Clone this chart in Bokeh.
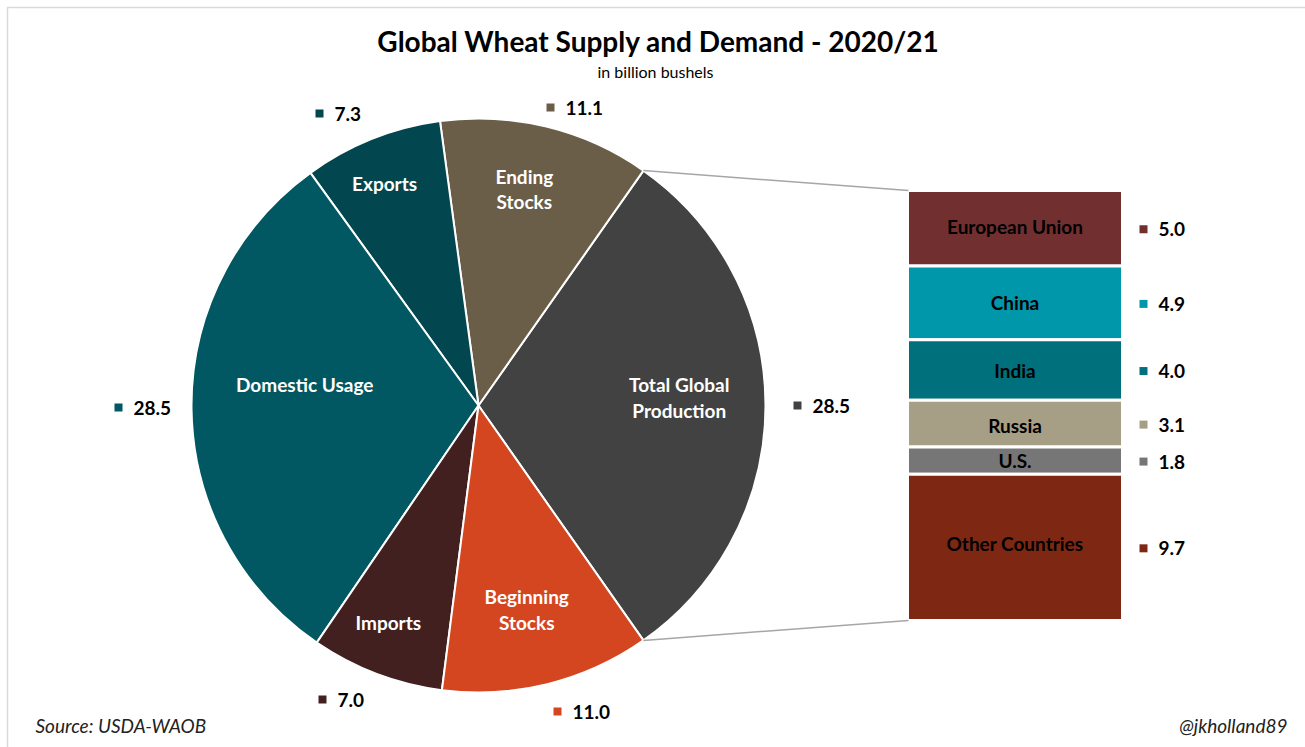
import math
from bokeh.plotting import figure
from bokeh.models import Range1d
from bokeh.core.properties import value
from bokeh.embed import file_html
from bokeh.resources import INLINE

# ---------------- data ----------------
pie_labels = ["Total Global\nProduction", "Ending\nStocks", "Exports",
              "Domestic Usage", "Imports", "Beginning\nStocks"]
pie_values = [28.5, 11.1, 7.3, 28.5, 7.0, 11.0]
pie_value_text = ["28.5", "11.1", "7.3", "28.5", "7.0", "11.0"]
pie_colors = ["#424242", "#6a5e49", "#02474f", "#015862", "#432020", "#d4461f"]

country_labels = ["European Union", "China", "India", "Russia", "U.S.", "Other Countries"]
country_values = [5.0, 4.9, 4.0, 3.1, 1.8, 9.7]
country_value_text = ["5.0", "4.9", "4.0", "3.1", "1.8", "9.7"]
country_colors = ["#722f30", "#0097aa", "#00717c", "#a79e86", "#767676", "#7e2813"]

# ---------------- layout ----------------
W, H = 1305, 747
FONT = "Lato"


def Y(py):
    return H - py


p = figure(width=W, height=H, x_range=Range1d(0, W), y_range=Range1d(0, H),
           output_backend="svg", toolbar_location=None, min_border=0,
           x_axis_type=None, y_axis_type=None, outline_line_color=None,
           background_fill_color="white", border_fill_color="white")
p.grid.visible = False

# chart frame
p.quad(left=7, right=W + 10, top=Y(7), bottom=-10, fill_color=None,
       line_color="#d9d9d9", line_width=1.5)

# pie
cx, cy, R = 478, Y(405), 287
total = sum(pie_values)
start0 = -math.pi * pie_values[0] / total
starts, ends, mids = [], [], []
a = start0
for v in pie_values:
    da = 2 * math.pi * v / total
    starts.append(a)
    ends.append(a + da)
    mids.append(a + da / 2)
    a += da

p.wedge(x=cx, y=cy, radius=R, start_angle=starts, end_angle=ends,
        fill_color=pie_colors, line_color="white", line_width=2)

# in-slice labels: radius fraction and angle shift per slice
lab_r = [0.70, 0.77, 0.84, 0.61, 0.82, 0.73]
lab_da = [0.04, 0.03, 0.02, -0.135, -0.03, -0.01]
lx = [cx + R * f * math.cos(m + d) for f, m, d in zip(lab_r, mids, lab_da)]
ly = [cy + R * f * math.sin(m + d) for f, m, d in zip(lab_r, mids, lab_da)]
p.text(x=lx, y=ly, text=pie_labels, text_color="white", text_font=value(FONT),
       text_font_style="bold", text_font_size="19px", text_align="center",
       text_baseline="middle", text_line_height=1.1)

# outside value labels (marker + value)
val_mx = [797, 550, 319, 118, 322, 557]
val_my = [405, 107, 113, 407, 699, 711]
p.scatter(x=val_mx, y=[Y(v) for v in val_my], marker="square", size=8,
          fill_color=pie_colors, line_color=None)
p.text(x=[x + 15 for x in val_mx], y=[Y(v) for v in val_my], text=pie_value_text,
       text_color="black", text_font=value(FONT), text_font_style="bold",
       text_font_size="19px", text_align="left", text_baseline="middle")

# stacked bar of production
bx0, bx1, btop = 907, 1122, Y(190)
scale = (620 - 190) / sum(country_values)
tops, bots = [], []
c = 0.0
for v in country_values:
    tops.append(btop - c * scale)
    c += v
    bots.append(btop - c * scale)
p.quad(left=bx0, right=bx1, top=tops, bottom=bots, fill_color=country_colors,
       line_color="white", line_width=3)
mid_y = [(t + b) / 2 for t, b in zip(tops, bots)]
lab_shift = [2, 0, 0, -2, 0, 4]
p.text(x=(bx0 + bx1) / 2, y=[m + s for m, s in zip(mid_y, lab_shift)], text=country_labels,
       text_color="black", text_font=value(FONT), text_font_style="bold",
       text_font_size="19px", text_align="center", text_baseline="middle")
p.scatter(x=1143, y=[m - 1 for m in mid_y], marker="square", size=8,
          fill_color=country_colors, line_color=None)
p.text(x=1158, y=[m - 1 for m in mid_y], text=country_value_text, text_color="black",
       text_font=value(FONT), text_font_style="bold", text_font_size="19px",
       text_align="left", text_baseline="middle")

# connector lines
p.segment(x0=[cx + R * math.cos(ends[0]), cx + R * math.cos(starts[0])],
          y0=[cy + R * math.sin(ends[0]), cy + R * math.sin(starts[0])],
          x1=[bx0 + 1, bx0 + 1], y1=[tops[0], bots[-1]],
          line_color="#a6a6a6", line_width=1.5)

# titles & notes
p.text(x=658, y=Y(40), text=["Global Wheat Supply and Demand - 2020/21"],
       text_font=value(FONT), text_font_style="bold", text_font_size="28px",
       text_align="center", text_baseline="middle", text_color="black")
p.text(x=655, y=Y(71), text=["in billion bushels"], text_font=value(FONT),
       text_font_size="16px", text_align="center", text_baseline="middle",
       text_color="black")
p.text(x=35, y=Y(725), text=["Source: USDA-WAOB"], text_font=value(FONT),
       text_font_style="italic", text_font_size="19px", text_align="left",
       text_baseline="middle", text_color="#222222")
p.text(x=1287, y=Y(725), text=["@jkholland89"], text_font=value(FONT),
       text_font_style="italic", text_font_size="19px", text_align="right",
       text_baseline="middle", text_color="#222222")

open("out.html", "w").write(file_html(p, INLINE))
